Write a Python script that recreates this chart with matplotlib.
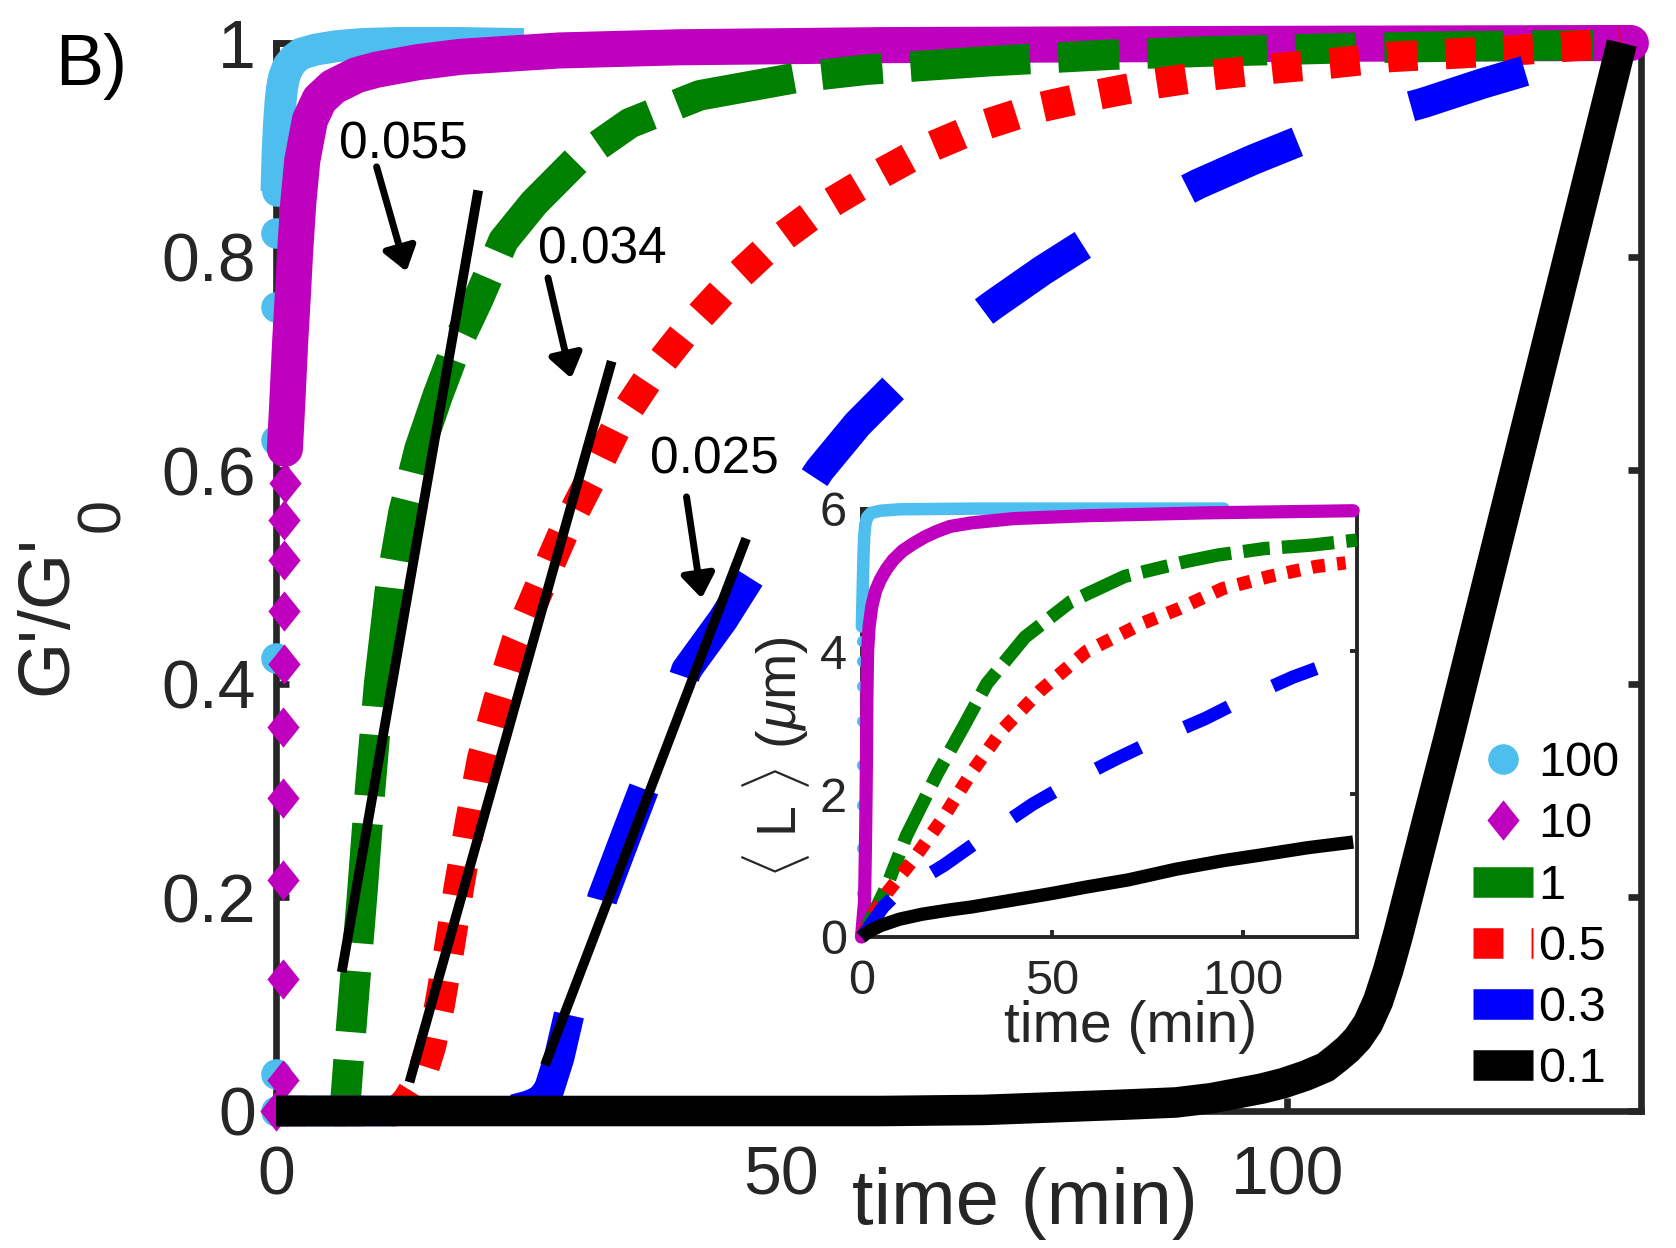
import matplotlib
matplotlib.use('Agg')
import matplotlib.pyplot as plt
from matplotlib.path import Path

# ---- main panel data: G'/G'0 vs time (min) ----
# 100: sparse markers of the steep rise, then the dense (merged) part
t100_pts = [0.0, 0.0, 0.01, 0.02, 0.03, 0.04, 0.05]
g100_pts = [0.0, 0.035, 0.424, 0.628, 0.753, 0.822, 0.861]
t100_band = [0.05, 0.15, 0.3, 0.45, 0.6, 0.8, 1.2, 1.8, 2.5, 4, 6, 8.5, 12, 18, 24.5]
g100_band = [0.861, 0.895, 0.925, 0.945, 0.958, 0.968, 0.978, 0.985, 0.99, 0.994, 0.997,
             0.999, 1.0, 1.0, 0.999]

t10_pts = [0.0, 0.65, 0.68, 0.7, 0.72, 0.74, 0.76, 0.78, 0.8, 0.82, 0.85, 0.88]
g10_pts = [0.0, 0.029, 0.124, 0.216, 0.293, 0.36, 0.419, 0.468, 0.516, 0.553, 0.588, 0.62]
t10_band = [0.88, 1.1, 1.4, 1.7, 1.88, 2.2, 2.6, 3.36, 4.3, 5.66, 8, 9.95, 14, 18.2, 28,
            40, 60, 90, 134]
g10_band = [0.62, 0.66, 0.72, 0.77, 0.803, 0.85, 0.89, 0.928, 0.947, 0.959, 0.97, 0.975,
            0.982, 0.987, 0.993, 0.996, 0.998, 0.999, 1.0]

t1 = [0, 6.8, 7.2, 7.8, 8.5, 9.3, 10.2, 11.3, 12.6, 14.2, 16, 18, 20, 22.5, 25.5, 29.7, 35,
      41.9, 51.8, 58.4, 70.6, 82.4, 92, 105, 118, 131.4]
g1 = [0, 0, 0.05, 0.12, 0.2, 0.3, 0.4, 0.49, 0.56, 0.62, 0.67, 0.72, 0.76, 0.815, 0.85, 0.89,
      0.925, 0.951, 0.968, 0.975, 0.983, 0.989, 0.992, 0.995, 0.997, 0.998]

t05 = [0, 12, 13, 14.3, 15.3, 16.2, 17.1, 18.1, 19.2, 20.4, 22.0, 23.8, 26.1, 28.4, 31.0,
       33.7, 37.0, 40.6, 44.7, 49.0, 53.75, 58.9, 64.1, 69.6, 75.2, 80.9, 86.9, 92.6, 98.5,
       104.4, 110.3, 116.3, 122.2, 128.1, 133.0]
g05 = [0, 0, 0.01, 0.03, 0.06, 0.10, 0.15, 0.21, 0.27, 0.33, 0.385, 0.44, 0.491, 0.541,
       0.589, 0.641, 0.688, 0.731, 0.773, 0.811, 0.844, 0.873, 0.9, 0.922, 0.939, 0.951,
       0.962, 0.97, 0.976, 0.981, 0.987, 0.99, 0.993, 0.997, 1.0]

t03 = [0, 23, 25, 26.2, 27, 28, 29.1, 30.7, 32.3, 34.5, 36.6, 38.7, 40.6, 44.2, 47.2, 50.5,
       53.75, 57.5, 61.7, 66, 70.8, 75.8, 80.8, 86, 91.2, 96.7, 102.2, 107.8, 113.5, 119.3, 125]
g03 = [0, 0, 0.005, 0.01, 0.02, 0.05, 0.095, 0.145, 0.2, 0.255, 0.307, 0.36, 0.413, 0.46,
       0.505, 0.553, 0.6, 0.643, 0.683, 0.72, 0.754, 0.787, 0.817, 0.843, 0.868, 0.891, 0.912,
       0.929, 0.944, 0.962, 0.978]

t01 = [0, 30, 60, 70, 78.4, 84, 89, 92.5, 95.3, 97.5, 99.6, 101.8, 103.8, 105, 106, 107, 108,
       109, 110, 111, 112, 113, 114, 116, 118, 120, 122, 124, 126, 128, 130, 132, 133.1]
g01 = [0, 0, 0, 0.001, 0.004, 0.006, 0.008, 0.012, 0.017, 0.021, 0.026, 0.033, 0.041, 0.05,
       0.058, 0.068, 0.082, 0.103, 0.132, 0.166, 0.203, 0.24, 0.277, 0.35, 0.426, 0.502,
       0.578, 0.654, 0.73, 0.806, 0.882, 0.958, 1.0]

# linear fits and their slope labels
fit_t = [[6.5, 20.0], [13.2, 33.2], [26.6, 46.5]]
fit_g = [[0.130, 0.862], [0.027, 0.702], [0.043, 0.536]]
slope_labels = ['0.055', '0.034', '0.025']
label_xy = [(12.55, 0.892), (32.3, 0.794), (43.4, 0.597)]
arrow_tail = [(9.95, 0.884), (26.9, 0.780), (40.6, 0.575)]
arrow_head = [(12.9, 0.786), (29.2, 0.686), (42.1, 0.480)]

# ---- inset data: <L> (um) vs time (min) ----
ti100_pts = [0.0, 0.01, 0.02, 0.03, 0.04, 0.05, 0.06, 0.07, 0.08, 0.09]
Li100_pts = [0.0, 0.61, 1.24, 1.85, 2.41, 3.02, 3.51, 3.86, 4.14, 4.35]
ti100_band = [0.09, 0.2, 0.35, 0.5, 0.7, 1.0, 1.5, 2.5, 5, 10, 30, 60, 95]
Li100_band = [4.35, 4.6, 4.95, 5.3, 5.6, 5.78, 5.88, 5.94, 5.97, 5.99, 6.0, 6.0, 6.0]

ti10 = [0, 0.8, 1.1, 1.3, 1.4, 1.6, 2.0, 2.7, 3.7, 4.9, 6.5, 8.3, 10.8, 13.6, 16.5, 19.7,
        23.2, 28.8, 40, 59, 90, 129]
Li10 = [0, 0.5, 1.5, 2.5, 3.3, 4.0, 4.35, 4.63, 4.85, 5.0, 5.15, 5.28, 5.41, 5.51, 5.6, 5.68,
        5.75, 5.8, 5.86, 5.9, 5.94, 5.97]

ti1 = [0, 2.7, 6.7, 11.8, 19.8, 26.8, 32.9, 42.9, 55, 69, 85.2, 93.5, 105.7, 118.4, 130]
Li1 = [0, 0.28, 0.72, 1.42, 2.28, 2.95, 3.55, 4.2, 4.7, 5.05, 5.26, 5.35, 5.44, 5.49, 5.56]

ti05 = [0, 1.7, 6.7, 13.8, 21.8, 28.8, 36.9, 46.9, 59, 74, 83.4, 94.8, 107, 119.3, 127]
Li05 = [0, 0.2, 0.62, 1.1, 1.7, 2.3, 2.9, 3.45, 4.0, 4.4, 4.6, 4.88, 5.05, 5.19, 5.24]

ti03 = [0, 1.7, 5.7, 8.7, 14, 21.5, 30, 44.9, 56, 67, 78, 90.2, 101, 113.2, 119.3]
Li03 = [0, 0.12, 0.42, 0.58, 0.76, 1.0, 1.32, 1.86, 2.2, 2.5, 2.78, 3.06, 3.35, 3.64, 3.76]

ti01 = [0, 2, 5, 10, 16, 23.2, 28.8, 40, 50, 59, 70, 82.6, 95, 105, 117, 129]
Li01 = [0, 0.08, 0.16, 0.25, 0.32, 0.38, 0.42, 0.52, 0.61, 0.7, 0.8, 0.95, 1.07, 1.15, 1.25,
        1.33]

legend_labels = ['100', '10', '1', '0.5', '0.3', '0.1']

C100 = '#4DBEEE'
C10 = '#BF00BF'
C1 = '#008000'
C05 = '#FF0000'
C03 = '#0000FF'
C01 = '#000000'
AXC = '#262626'

# dash patterns, in units of the line width
DASH_1 = (3.92, 0.92, 2.0, 0.92)
DOT_05 = (0.98, 0.92)
DASH_03 = (3.9, 3.9)
DASH_03_IN = (3.65, 3.65)

plt.rcParams['font.family'] = ['Liberation Sans', 'DejaVu Sans']
plt.rcParams['mathtext.fontset'] = 'custom'
plt.rcParams['mathtext.rm'] = 'Liberation Sans'
plt.rcParams['mathtext.it'] = 'Liberation Sans:italic'

W, H = 1676, 1248
fig = plt.figure(figsize=(W / 100, H / 100), dpi=100)
ax = fig.add_axes([276 / W, 1 - 1111 / H, 1365 / W, 1068 / H])

diamond = Path([(0, 1), (0.8, 0), (0, -1), (-0.8, 0), (0, 1)],
               [Path.MOVETO, Path.LINETO, Path.LINETO, Path.LINETO, Path.CLOSEPOLY])

LW = 22
kw = dict(zorder=3, clip_on=False)
ax.plot(t100_band, g100_band, color=C100, lw=23, solid_capstyle='butt', **kw)
h100, = ax.plot(t100_pts, g100_pts, ls='none', marker='o', ms=22, mfc=C100, mec=C100, mew=0, **kw)
ax.plot(t10_band, g10_band, color=C10, lw=26, solid_capstyle='round', **kw)
h10, = ax.plot(t10_pts, g10_pts, ls='none', marker=diamond, ms=29, mfc=C10, mec=C10, mew=0, **kw)
h1, = ax.plot(t1, g1, color=C1, lw=LW, dashes=DASH_1, **kw)
h05, = ax.plot(t05, g05, color=C05, lw=LW, dashes=DOT_05, **kw)
h03, = ax.plot(t03, g03, color=C03, lw=LW, dashes=DASH_03, **kw)
h01, = ax.plot(t01, g01, color=C01, lw=LW, solid_capstyle='butt', **kw)

for ft, fg in zip(fit_t, fit_g):
    ax.plot(ft, fg, color='k', lw=7, solid_capstyle='butt', zorder=4)

for lab, (lx, ly), tail, head in zip(slope_labels, label_xy, arrow_tail, arrow_head):
    ax.text(lx, ly, lab, fontsize=37, ha='center', va='baseline', color='k', zorder=5)
    ax.annotate('', xy=head, xytext=tail,
                arrowprops=dict(arrowstyle='-|>,head_length=1.4,head_width=1.0',
                                mutation_scale=10, lw=5, color='k', shrinkA=0, shrinkB=0),
                zorder=5)

ax.set_xlim(0, 135)
ax.set_ylim(0, 1)
ax.set_xticks([0, 50, 100])
ax.set_yticks([0, 0.2, 0.4, 0.6, 0.8, 1])
ax.set_yticklabels(['0', '0.2', '0.4', '0.6', '0.8', '1'])
ax.tick_params(direction='in', length=9.5, width=4.8, labelsize=49, colors=AXC,
               top=True, right=True)
ax.tick_params(axis='x', pad=24)
ax.tick_params(axis='y', pad=14.5)
for s in ax.spines.values():
    s.set_linewidth(4.8)
    s.set_color(AXC)

ax.set_xlabel('time (min)', fontsize=56, color=AXC)
ax.xaxis.set_label_coords(0.549, -0.0524)

leg = ax.legend([h100, h10, h1, h05, h03, h01], legend_labels, loc='upper left',
                bbox_to_anchor=(1472.7 / W, 1 - 741 / H), bbox_transform=fig.transFigure,
                frameon=False, fontsize=35, handlelength=1.25, handletextpad=0.1,
                labelspacing=0.335, borderpad=0, borderaxespad=0, numpoints=1)
leg.set_zorder(6)

fig.text(55 / W, 1 - 85 / H, 'B)', fontsize=52, ha='left', va='baseline', color='k')

# y label G'/G'_0 with a full-size subscript
yl = fig.text(66 / W, 1 - 695 / H, "G'/G'", fontsize=52, rotation=90, rotation_mode='anchor',
              ha='left', va='baseline', color=AXC)
fig.canvas.draw()
bb = yl.get_window_extent()
fig.text(119 / W, (bb.y1 + 3) / H, '0', fontsize=44, rotation=90, rotation_mode='anchor',
         ha='left', va='baseline', color=AXC)

# ---- inset ----
axin = fig.add_axes([861.5 / W, 1 - 937 / H, 495.5 / W, 428.4 / H], zorder=5)
axin.set_facecolor('white')
ILW = 9.6
ikw = dict(zorder=3, clip_on=False)
axin.plot(ti100_band, Li100_band, color=C100, lw=9, solid_capstyle='round', **ikw)
axin.plot(ti100_pts, Li100_pts, ls='none', marker='o', ms=8, mfc=C100, mec=C100, mew=0, **ikw)
axin.plot(ti10, Li10, color=C10, lw=9.5, solid_capstyle='round', **ikw)
axin.plot(ti1, Li1, color=C1, lw=ILW, dashes=DASH_1, **ikw)
axin.plot(ti05, Li05, color=C05, lw=ILW, dashes=DOT_05, **ikw)
axin.plot(ti03, Li03, color=C03, lw=ILW, dashes=DASH_03_IN, **ikw)
axin.plot(ti01, Li01, color=C01, lw=ILW, solid_capstyle='butt', **ikw)

axin.set_xlim(0, 130)
axin.set_ylim(0, 6)
axin.set_xticks([0, 50, 100])
axin.set_yticks([0, 2, 4, 6])
axin.tick_params(direction='in', length=5, width=2.8, labelsize=35, colors=AXC,
                 top=True, right=True)
axin.tick_params(axis='x', pad=15.5)
axin.tick_params(axis='y', pad=10.5)
for s in axin.spines.values():
    s.set_linewidth(2.8)
    s.set_color(AXC)
axin.set_xlabel('time (min)', fontsize=41, color=AXC)
axin.xaxis.set_label_coords(0.543, -0.147)
axin.set_ylabel(r'$\langle$ L $\rangle$ ($\mu$m)', fontsize=40, color=AXC)
axin.yaxis.set_label_coords(-0.1005, 0.42)

fig.savefig('out.png', dpi=100, facecolor='white')
